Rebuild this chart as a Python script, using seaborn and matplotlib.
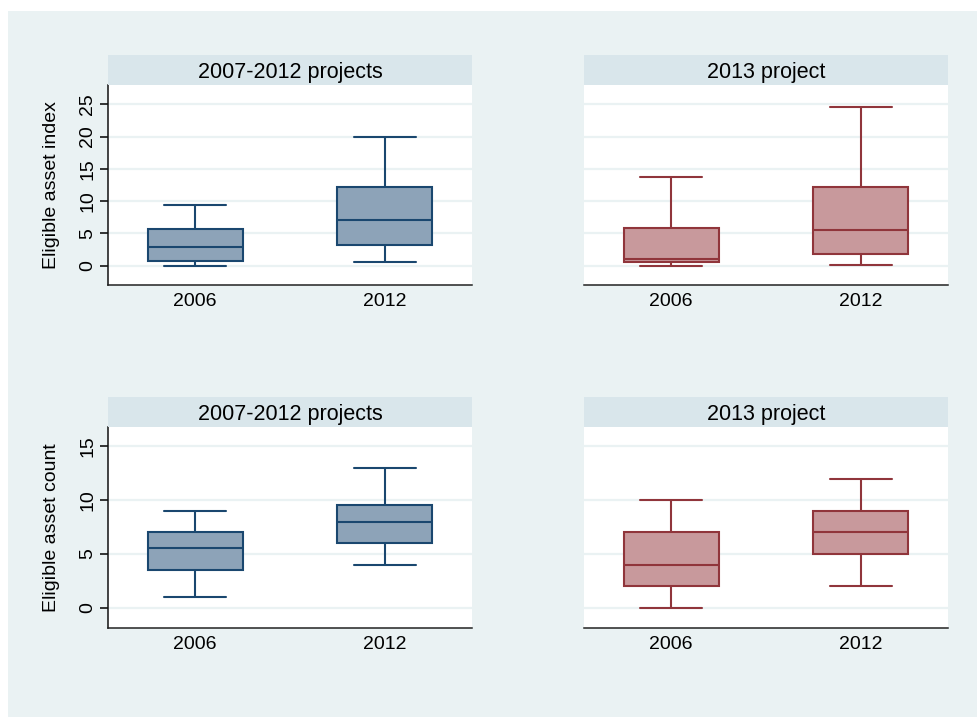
import numpy as np
import pandas as pd
import matplotlib
matplotlib.use("Agg")
import matplotlib.pyplot as plt
import seaborn as sns

# ---- data: five-number summaries (min, Q1, median, Q3, max) ----
years = ["2006", "2012"]
panel_titles = ["2007-2012 projects", "2013 project"]
row_labels = ["Eligible asset index", "Eligible asset count"]

index_0712_2006 = [0.0, 0.77, 2.94, 5.67, 9.44]
index_0712_2012 = [0.52, 3.2, 7.12, 12.23, 19.92]
index_2013_2006 = [0.0, 0.52, 1.03, 5.88, 13.73]
index_2013_2012 = [0.15, 1.86, 5.47, 12.18, 24.6]

count_0712_2006 = [1.0, 3.5, 5.5, 7.0, 9.0]
count_0712_2012 = [4.0, 6.0, 8.0, 9.5, 13.0]
count_2013_2006 = [0.0, 2.0, 4.0, 7.0, 10.0]
count_2013_2012 = [2.0, 5.0, 7.0, 9.0, 12.0]

index_ticks = [0, 5, 10, 15, 20, 25]
count_ticks = [0, 5, 10, 15]

panels = [
    [(index_0712_2006, index_0712_2012), (index_2013_2006, index_2013_2012)],
    [(count_0712_2006, count_0712_2012), (count_2013_2006, count_2013_2012)],
]
row_ticks = [index_ticks, count_ticks]
row_ylims = [(-3, 28), (-1.9, 16.8)]

BG = "#EAF2F3"
STRIP = "#D9E6EB"
fills = ["#8DA3B8", "#C8999C"]
edges = ["#1A476F", "#90353B"]

sns.set_theme(style="white")
plt.rcParams["font.family"] = ["Liberation Sans", "DejaVu Sans"]

W, H = 978, 717
fig = plt.figure(figsize=(W / 100, H / 100), dpi=100, facecolor="white")
fig.patches.append(plt.Rectangle((8 / W, 0), 1, 1 - 11 / H, transform=fig.transFigure,
                                 facecolor=BG, edgecolor="none", zorder=-10))

def px_axes(x0, y0, x1, y1):
    return fig.add_axes([x0 / W, 1 - y1 / H, (x1 - x0) / W, (y1 - y0) / H])

col_x = [(108, 472), (584, 948)]
row_y = [(85, 285), (427, 628)]
STRIP_H = 30

for r in range(2):
    for c in range(2):
        x0, x1 = col_x[c]
        y0, y1 = row_y[r]
        ax = px_axes(x0, y0, x1, y1)
        sax = px_axes(x0, y0 - STRIP_H, x1, y0)
        sax.set_facecolor(STRIP)
        sax.set_xticks([]); sax.set_yticks([])
        for s in sax.spines.values():
            s.set_visible(False)
        sax.text(0.5, 0.5, panel_titles[c], ha="center", va="center_baseline", fontsize=15.5,
                 color="black", transform=sax.transAxes)

        a, b = panels[r][c]
        df = pd.DataFrame({"year": [years[0]] * len(a) + [years[1]] * len(b),
                           "value": list(a) + list(b)})
        ax.set_facecolor("white")
        sns.boxplot(data=df, x="year", y="value", order=years, ax=ax, whis=np.inf,
                    width=0.5, color=fills[c], linecolor=edges[c], linewidth=1.5,
                    saturation=1, capwidths=0.33)
        ax.set_xlim(-0.458, 1.458)
        ax.set_ylim(*row_ylims[r])
        ax.set_yticks(row_ticks[r])
        ax.set_axisbelow(True)
        ax.yaxis.grid(True, color=BG, linewidth=1.6)
        ax.xaxis.grid(False)
        ax.set_xlabel("")
        ax.tick_params(axis="x", length=0, pad=6, labelsize=14, colors="black")
        for s in ["top", "right"]:
            ax.spines[s].set_visible(False)
        ax.spines["bottom"].set_color("#222222")
        ax.spines["bottom"].set_linewidth(1.1)
        if c == 0:
            ax.spines["left"].set_color("#111111")
            ax.spines["left"].set_linewidth(1.1)
            ax.tick_params(axis="y", left=True, length=5.5, width=1.1, pad=3, labelsize=14,
                           labelrotation=90, colors="black")
            for lab in ax.get_yticklabels():
                lab.set_va("center")
            ax.set_ylabel(row_labels[r], fontsize=14, color="black")
            ax.yaxis.label.set_va("center")
            ax.yaxis.set_label_coords((52 - x0) / (x1 - x0), 0.5)
        else:
            ax.spines["left"].set_visible(False)
            ax.tick_params(axis="y", left=False, labelleft=False)
            ax.set_ylabel("")

fig.savefig("out.png", dpi=100, facecolor=fig.get_facecolor())
